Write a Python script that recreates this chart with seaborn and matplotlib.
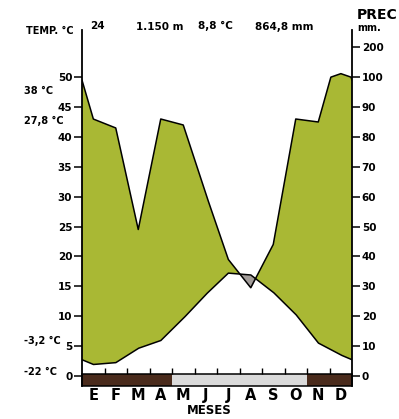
import numpy as np
import pandas as pd
import matplotlib
matplotlib.use("Agg")
import matplotlib.pyplot as plt
import seaborn as sns
from matplotlib.patches import Rectangle

# Monthly climate normals
months = ["E", "F", "M", "A", "M", "J", "J", "A", "S", "O", "N", "D"]
temp_c = [1.9, 2.2, 4.6, 5.9, 9.6, 13.6, 17.2, 16.9, 14.0, 10.3, 5.5, 3.5]
prec_mm = [86, 83, 49, 86, 84, 61, 39, 29.5, 44, 86, 85, 112]
# Frost bar: "sure" = certain frost (dark), "prob" = probable frost (light)
frost_kind = ["sure", "sure", "sure", "sure", "prob", "prob",
              "prob", "prob", "prob", "prob", "sure", "sure"]

temp_ticks = [0, 5, 10, 15, 20, 25, 30, 35, 40, 45, 50]
prec_ticks = [0, 10, 20, 30, 40, 50, 60, 70, 80, 90, 100, 200]

station_years = "24"
station_alt = "1.150 m"
mean_temp = "8,8 °C"
total_prec = "864,8 mm"
abs_max = "38 °C"
mean_max_warm = "27,8 °C"
mean_min_cold = "-3,2 °C"
abs_min = "-22 °C"

GREEN = "#a9b834"
GREY = "#a39d9a"
DARK = "#4a2b1c"
LIGHT = "#dadada"

sns.set_style("white")
FONT = ["Liberation Sans Narrow", "DejaVu Sans"]
plt.rcParams["font.family"] = FONT
plt.rcParams["text.color"] = "black"

W, H = 399, 419
fig = plt.figure(figsize=(W / 100, H / 100), dpi=100)
fig.patch.set_facecolor("white")

def px(x, y):
    return x / W, 1 - y / H

Y0, Y1 = -1.7, 57.9
ax = fig.add_axes([82 / W, 1 - 386 / H, 270 / W, 356 / H])
ax.set_xlim(-0.5, 11.5)
ax.set_ylim(Y0, Y1)


def prec_to_axis(p):
    p = np.asarray(p, dtype=float)
    return np.where(p <= 100, p / 2.0, 50 + (p - 100) / 20.0)


# curves wrap around the year at the chart edges
idx = np.arange(len(months))
kx = np.concatenate([[-0.5], idx, [11.5]])
t_edge = (temp_c[0] + temp_c[-1]) / 2
p_edge = (prec_mm[0] + prec_mm[-1]) / 2
kt = np.concatenate([[t_edge], temp_c, [t_edge]])
kp = np.concatenate([[p_edge], prec_mm, [p_edge]])

xd = np.linspace(-0.5, 11.5, 2401)
td = np.interp(xd, kx, kt)
pdd = prec_to_axis(np.interp(xd, kx, kp))
curves = pd.DataFrame({"x": xd, "temp": td, "prec": pdd})

ax.fill_between(curves["x"], curves["temp"], curves["prec"],
                where=curves["prec"] >= curves["temp"], interpolate=True,
                color=GREEN, lw=0, zorder=1)
ax.fill_between(curves["x"], curves["temp"], curves["prec"],
                where=curves["prec"] < curves["temp"], interpolate=True,
                color=GREY, lw=0, zorder=1)

sns.lineplot(data=curves, x="x", y="prec", color="black", lw=1.1,
             sort=False, ax=ax, zorder=3)
sns.lineplot(data=curves, x="x", y="temp", color="black", lw=1.1,
             sort=False, ax=ax, zorder=3)

# frost bar along the bottom
bar_top = 0.3
for i, kind in enumerate(frost_kind):
    ax.add_patch(Rectangle((i - 0.5, Y0), 1, bar_top - Y0,
                           facecolor=DARK if kind == "sure" else LIGHT,
                           edgecolor="none", zorder=2))
ax.add_patch(Rectangle((-0.5, Y0), 12, bar_top - Y0, facecolor="none",
                       edgecolor="black", lw=1.1, zorder=4, clip_on=False))
ax.vlines(np.arange(0.5, 11, 1), bar_top, bar_top + 1.0, color="black",
          lw=1.0, zorder=4)

# axes styling
for s in ["top", "bottom"]:
    ax.spines[s].set_visible(False)
for s in ["left", "right"]:
    ax.spines[s].set_color("black")
    ax.spines[s].set_linewidth(1.3)
ax.set_xticks([])
ax.set_yticks(temp_ticks)
ax.set_yticklabels([str(v) for v in temp_ticks], fontweight="bold")
ax.tick_params(axis="y", left=True, length=6, width=1.1, pad=1,
               labelsize=7.5, colors="black")
ax.set_xlabel("")
ax.set_ylabel("")

ax2 = ax.twinx()
ax2.set_ylim(Y0, Y1)
ax2.set_yticks(prec_to_axis(prec_ticks))
ax2.set_yticklabels([str(v) for v in prec_ticks], fontweight="bold")
ax2.tick_params(axis="y", right=True, length=6, width=1.1, pad=1,
                labelsize=7.5, colors="black")
for s in ["top", "bottom", "left", "right"]:
    ax2.spines[s].set_visible(False)

# month letters under the bar
for i, m in enumerate(months):
    ax.text(i, Y0 - 0.3, m, ha="center", va="top", fontsize=10.5,
            fontweight="bold", clip_on=False)
fig.text(*px(209, 410), "MESES", ha="center", va="center", fontsize=8.5,
         fontweight="bold")

# header and station information
B = dict(fontweight="bold")
fig.text(*px(74, 31), "TEMP. °C", ha="right", va="center", fontsize=7, **B)
fig.text(*px(97, 26), station_years, ha="center", va="center", fontsize=7.5, **B)
fig.text(*px(160, 27), station_alt, ha="center", va="center", fontsize=7.5, **B)
fig.text(*px(215, 26), mean_temp, ha="center", va="center", fontsize=7.5, **B)
fig.text(*px(284, 27), total_prec, ha="center", va="center", fontsize=7.5, **B)
fig.text(*px(357, 15), "PREC", ha="left", va="center", fontsize=10, **B)
fig.text(*px(357, 28), "mm.", ha="left", va="center", fontsize=7, **B)

# extreme temperature annotations
fig.text(*px(24, 91), abs_max, ha="left", va="center", fontsize=7, **B)
fig.text(*px(24, 121), mean_max_warm, ha="left", va="center", fontsize=7, **B)
fig.text(*px(24, 341), mean_min_cold, ha="left", va="center", fontsize=7, **B)
fig.text(*px(24, 372), abs_min, ha="left", va="center", fontsize=7, **B)

fig.savefig("out.png", dpi=100, facecolor="white")
